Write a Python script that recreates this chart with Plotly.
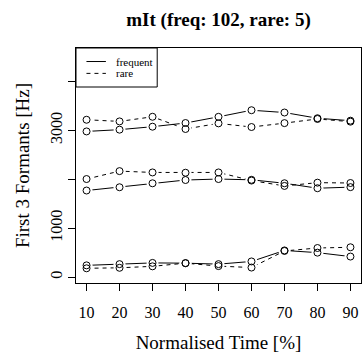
import plotly.graph_objects as go

# ---- data ----
time_pct = [10, 20, 30, 40, 50, 60, 70, 80, 90]

f1_frequent = [240, 265, 290, 285, 265, 320, 545, 500, 420]
f1_rare = [180, 190, 220, 285, 225, 195, 535, 595, 610]

f2_frequent = [1771, 1838, 1919, 1986, 2006, 1990, 1920, 1818, 1840]
f2_rare = [2006, 2168, 2141, 2135, 2141, 1975, 1865, 1932, 1925]

f3_frequent = [2980, 3016, 3077, 3152, 3279, 3414, 3367, 3250, 3200]
f3_rare = [3219, 3185, 3280, 3030, 3145, 3070, 3150, 3235, 3180]

y_tick_vals = [0, 1000, 2000, 3000, 4000]
y_tick_text = ["0", "1000", "", "3000", ""]

legend_labels = ["frequent", "rare"]
legend_dashes = ["solid", "4px,4px"]

title_text = "mIt (freq: 102, rare: 5)"
x_title = "Normalised Time [%]"
y_title = "First 3 Formants [Hz]"

series = [
    (f1_frequent, "solid"), (f2_frequent, "solid"), (f3_frequent, "solid"),
    (f1_rare, "4px,4px"), (f2_rare, "4px,4px"), (f3_rare, "4px,4px"),
]

FONT = "Liberation Serif"
W, H = 364, 353
ML, MR, MT, MB = 76, 2, 48, 67
PW, PH = W - ML - MR, H - MT - MB

fig = go.Figure()

# lines
for vals, dash in series:
    fig.add_trace(go.Scatter(x=time_pct, y=vals, mode="lines",
                             line=dict(color="black", width=1, dash=dash),
                             showlegend=False, hoverinfo="skip"))
# white discs to create the type="b" gaps
for vals, dash in series:
    fig.add_trace(go.Scatter(x=time_pct, y=vals, mode="markers",
                             marker=dict(symbol="circle", size=12, color="white",
                                         line=dict(width=0)),
                             showlegend=False, hoverinfo="skip"))
# open circles
for vals, dash in series:
    fig.add_trace(go.Scatter(x=time_pct, y=vals, mode="markers",
                             marker=dict(symbol="circle-open", size=7, color="black",
                                         line=dict(width=1, color="black")),
                             showlegend=False, hoverinfo="skip"))

# legend drawn R-style (box at top-left of plot region)
def px_x(p):
    return p / PW

def px_y(p):
    return 1 - p / PH

shapes = [dict(type="rect", xref="paper", yref="paper",
               x0=0, x1=px_x(81.5), y0=px_y(39.5), y1=1,
               line=dict(color="black", width=1), fillcolor="white", layer="above")]
annotations = []
for i, (lab, dash) in enumerate(zip(legend_labels, legend_dashes)):
    yy = px_y(13.7 + 12 * i)
    shapes.append(dict(type="line", xref="paper", yref="paper",
                       x0=px_x(10.5), x1=px_x(30), y0=yy, y1=yy,
                       line=dict(color="black", width=1, dash=dash), layer="above"))
    annotations.append(dict(text=lab, xref="paper", yref="paper",
                            x=px_x(38.5), y=yy, xanchor="left", yanchor="middle",
                            showarrow=False,
                            font=dict(family=FONT, size=11, color="black")))

fig.update_layout(
    width=W, height=H,
    margin=dict(l=ML, r=MR, t=MT, b=MB),
    paper_bgcolor="white", plot_bgcolor="white",
    font=dict(family=FONT, color="black", size=16),
    title=dict(text="<b>" + title_text + "</b>", x=0.5, xref="paper",
               y=1 - 19 / H, yref="container", yanchor="middle",
               font=dict(family=FONT, size=19, color="black")),
    showlegend=False,
    shapes=shapes,
    annotations=annotations,
)

fig.update_xaxes(range=[6.8, 93.2], tickvals=time_pct, ticks="outside",
                 ticklen=7, tickcolor="black", tickwidth=1,
                 showline=True, mirror=True, linecolor="black", linewidth=1,
                 showgrid=False, zeroline=False, ticklabelstandoff=8,
                 tickfont=dict(family=FONT, size=16),
                 title=dict(text=x_title, font=dict(family=FONT, size=19), standoff=16))
fig.update_yaxes(range=[-121, 4687], tickvals=y_tick_vals, ticktext=y_tick_text,
                 tickangle=-90, ticks="outside", ticklen=7, tickcolor="black",
                 tickwidth=1, showline=True, mirror=True, linecolor="black",
                 linewidth=1, showgrid=False, zeroline=False,
                 tickfont=dict(family=FONT, size=16),
                 title=dict(text=y_title, font=dict(family=FONT, size=19), standoff=12))

fig.write_html("out.html")
